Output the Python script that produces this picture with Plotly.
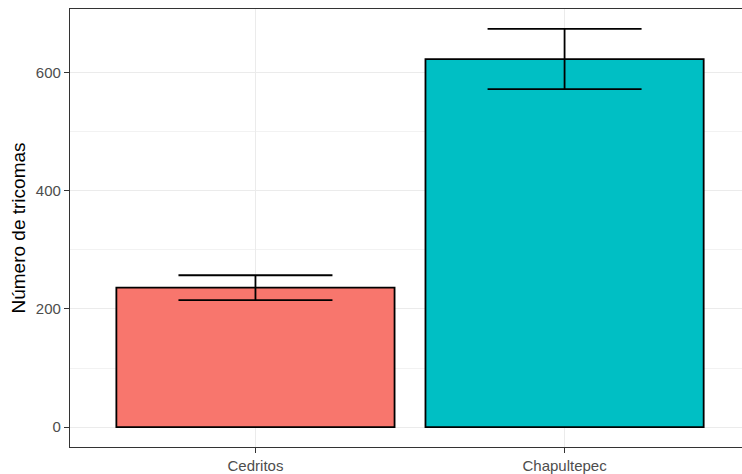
import plotly.graph_objects as go

categories = ["Cedritos", "Chapultepec"]
means = [236, 623]
errors = [21, 51]
colors = ["#F8766D", "#00BFC4"]
y_ticks = [0, 200, 400, 600]
y_minor = [100, 300, 500]

fig = go.Figure()
fig.add_trace(go.Bar(
    x=categories, y=means, width=0.9,
    marker=dict(color=colors, line=dict(color="black", width=1.8)),
    error_y=dict(type="data", array=errors, visible=True, color="black",
                 thickness=1.8, width=77),
    showlegend=False,
))

fig.update_layout(
    width=742, height=474,
    margin=dict(l=70, r=0, t=9, b=25),
    plot_bgcolor="white", paper_bgcolor="white",
    font=dict(family="Liberation Sans, Arial, sans-serif", color="#4D4D4D", size=15),
    xaxis=dict(
        range=[-0.6, 1.574], showgrid=True, gridcolor="#EBEBEB", gridwidth=1.3,
        showline=True, linecolor="#333333", linewidth=1.3, mirror=True,
        ticks="outside", ticklen=5, tickcolor="#333333", tickwidth=1.3,
        tickfont=dict(size=15, color="#4D4D4D"), zeroline=False,
    ),
    yaxis=dict(
        range=[-33.7, 707.7], tickvals=y_ticks, showgrid=True, gridcolor="#EBEBEB", gridwidth=1.3,
        minor=dict(tickvals=y_minor, showgrid=True, gridcolor="#F2F2F2", gridwidth=0.7),
        showline=True, linecolor="#333333", linewidth=1.3, mirror=False,
        ticks="outside", ticklen=5, tickcolor="#333333", tickwidth=1.3,
        tickfont=dict(size=15, color="#4D4D4D"), zeroline=False,
        title=dict(text="Número de tricomas", font=dict(size=19, color="black"), standoff=5),
    ),
)

fig.write_html("out.html", config={"displayModeBar": False},
               post_script="document.body.style.margin='0';document.body.style.overflow='hidden';")
